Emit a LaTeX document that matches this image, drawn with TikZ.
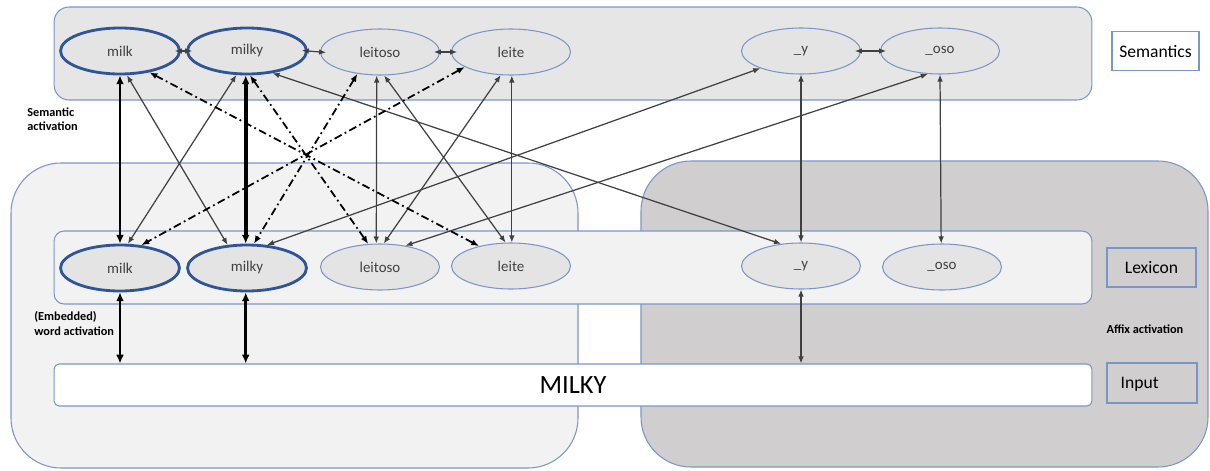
\documentclass[tikz,border=0pt]{standalone}
\usepackage{fontspec}
\setmainfont{Carlito}
\usetikzlibrary{shapes.geometric,arrows.meta}

\definecolor{bandgray}{HTML}{E6E6E6}
\definecolor{lightbg}{HTML}{F2F2F2}
\definecolor{darkbg}{HTML}{D0CECE}
\definecolor{frameblue}{HTML}{7A96C8}
\definecolor{boldblue}{HTML}{2F5597}
\definecolor{ellgray}{HTML}{E4E4E4}
\definecolor{linkgray}{HTML}{404040}

\tikzset{
  word/.style={ellipse, draw=frameblue, line width=0.6pt, fill=ellgray, inner sep=0pt,
    minimum width=2.38cm, minimum height=0.92cm, text=linkgray, font=\fontsize{8.5}{10}\selectfont},
  keyword/.style={draw=boldblue, line width=1.6pt},
  band/.style={draw=frameblue, line width=0.6pt, inner sep=0pt, minimum width=20.76cm},
  tag/.style={draw=frameblue, line width=0.6pt, fill=white, inner sep=0pt, font=\fontsize{10}{12}\selectfont},
  note/.style={align=left, inner sep=0pt, font=\fontsize{7}{8.5}\selectfont\bfseries},
  link/.style={draw=linkgray, line width=0.7pt, {Latex[length=4pt,width=3.2pt]}-{Latex[length=4pt,width=3.2pt]}},
  dlink/.style={draw=black, line width=1pt, dash pattern=on 4.5pt off 2pt on 1pt off 2pt,
    {Latex[length=4.5pt,width=3.6pt]}-{Latex[length=4.5pt,width=3.6pt]}},
  strong/.style={draw=black, {Latex[length=5pt,width=4.5pt]}-{Latex[length=5pt,width=4.5pt]}},
  near/.style={link, shorten <=-3.5pt, shorten >=-3.5pt}
}

\begin{document}
\begin{tikzpicture}[x=0.02cm, y=-0.02cm]  % 一个单位 = 一个像素

    \useasboundingbox (0,0) rectangle (1210,470);

    % 两块大底板
    \filldraw[fill=lightbg, draw=frameblue, line width=0.6pt, rounded corners=1cm] (11,163) rectangle (578,468); % 词
    \filldraw[fill=darkbg, draw=frameblue, line width=0.6pt, rounded corners=1cm] (641,161) rectangle (1208,467); % 词缀

    % 三条横带
    \node[band, fill=bandgray, minimum height=1.86cm, rounded corners=0.3cm] (sem) at (573,53.5) {};
    \node[band, fill=lightbg, minimum height=1.46cm, rounded corners=0.2cm] (lex) at (573,267.5) {};
    \node[band, fill=white, minimum height=0.84cm, rounded corners=0.1cm,
          font=\fontsize{15}{18}\selectfont] (input) at (573,385) {MILKY};

    % 右侧标签
    \node[tag, minimum width=1.74cm, minimum height=0.78cm, text depth=-2pt] (semtag) at (1155.5,51) {Semantics};
    \node[tag, fill=none, minimum width=1.78cm, minimum height=0.78cm, text depth=-2pt] (lextag) at (1151.5,267.5) {Lexicon};
    \node[tag, fill=none, minimum width=1.8cm, minimum height=0.8cm, text depth=-2pt] (inputtag) at (1152,383) {\hspace*{-14pt}Input};

    % 说明文字
    \node[note, anchor=north west] (semact) at (27,107) {Semantic\\activation};
    \node[note, anchor=north west] (wordact) at (34,311) {(Embedded)\\word activation};
    \node[note] (affixact) at (1145,329) {Affix activation};

    % 语义层
    \node[word, keyword] (smilk) at (120,51) {milk};
    \node[word, keyword] (smilky) at (247,51) {milky};
    \node[word] (sleitoso) at (380,52) {leitoso};
    \node[word] (sleite) at (511,52) {leite};
    \node[word] (sy) at (801,51) {\_y};
    \node[word] (soso) at (940,51) {\_oso};

    % 词汇层
    \node[word, keyword] (lmilk) at (120,268) {milk};
    \node[word, keyword] (lmilky) at (247,268) {milky};
    \node[word] (lleitoso) at (380,267) {leitoso};
    \node[word] (lleite) at (511,266) {leite};
    \node[word] (ly) at (801,266) {\_y};
    \node[word] (loso) at (942,267) {\_oso};

    % 语义层内相邻
    \draw[near] (smilk.east) -- (smilky.west);
    \draw[near] (smilky.east) -- (sleitoso.west);
    \draw[near] (sleitoso.east) -- (sleite.west);
    \draw[near] (sy.east) -- (soso.west);

    % 竖直连线
    \draw[strong, line width=1.5pt] (smilk.-90) -- (lmilk.90);
    \draw[strong, line width=2.3pt] (smilky.-93) -- (lmilky.93);
    \draw[link] (sleitoso.-98) -- (lleitoso.99);
    \draw[link] (sleite.-88) -- (lleite.88);
    \draw[link] (sy.-90) -- (ly.90);
    \draw[link] (soso.-90) -- (loso.92);

    % 交叉连线
    \draw[link] (smilk.-74) -- (lmilky.130);
    \draw[link] (smilky.-114) -- (lmilk.72);
    \draw[link] (sleitoso.-80) -- (lleite.103);
    \draw[link] (sleite.-114) -- (lleitoso.81);
    \draw[link] (smilky.-41) -- (ly.132);
    \draw[link] (sy.-157) -- (lmilky.49);
    \draw[link] (soso.-118) -- (lleitoso.40);

    % 点划线
    \draw[dlink] (smilk.-36) -- (lleite.148);
    \draw[dlink] (smilky.-83) -- (lleitoso.117);
    \draw[dlink] (sleitoso.-136) -- (lmilky.74);
    \draw[dlink] (sleite.-162) -- (lmilk.47);

    % 词汇层到输入
    \draw[strong, line width=1.2pt] (lmilk.-90) -- (lmilk.-90 |- input.north);
    \draw[strong, line width=1.8pt] (lmilky.-93) -- (lmilky.-93 |- input.north);
    \draw[link] (ly.-90) -- (ly.-90 |- input.north);

\end{tikzpicture}
\end{document}
